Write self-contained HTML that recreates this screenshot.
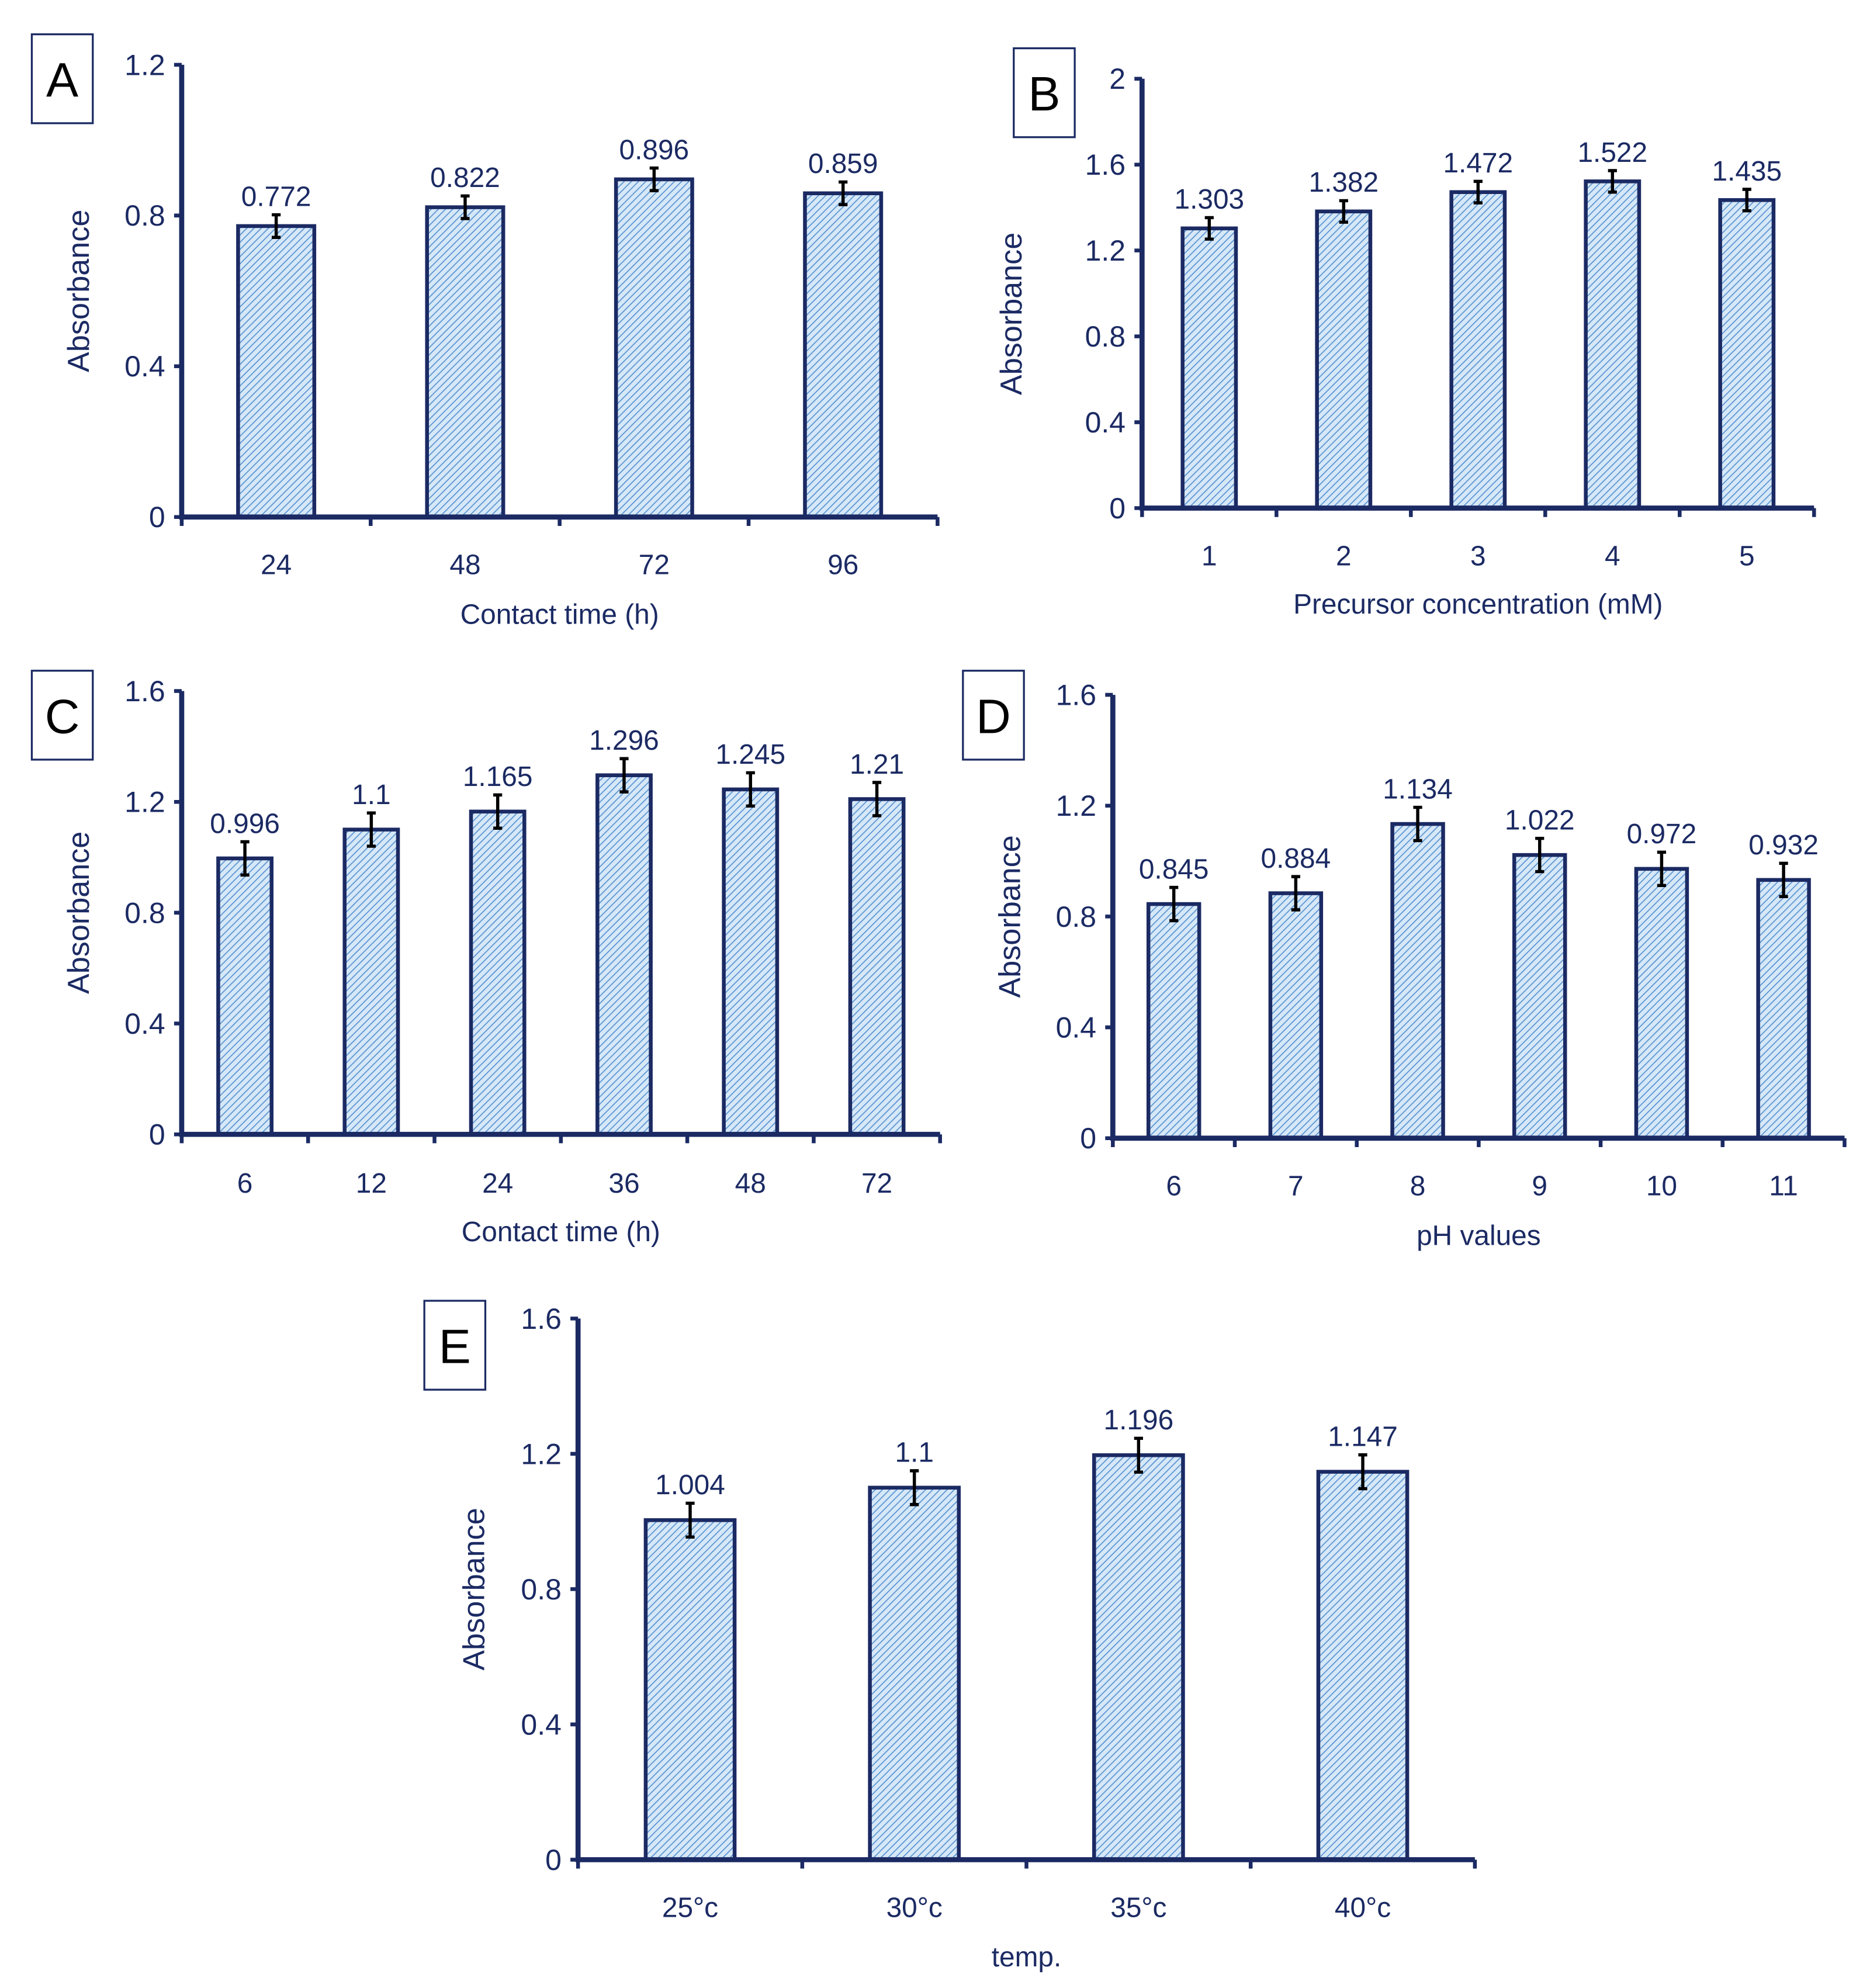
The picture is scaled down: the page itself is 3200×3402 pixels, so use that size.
<!DOCTYPE html>
<html><head><meta charset="utf-8"><style>
html,body{margin:0;padding:0;background:#fff}
svg{display:block}
text{font-family:"Liberation Sans",sans-serif;fill:#1b2a63}
</style></head><body>
<svg id="fig" width="3200" height="3402" viewBox="0 0 1472 1565" xmlns="http://www.w3.org/2000/svg">
<defs>
<pattern id="hatch" width="4" height="4" patternUnits="userSpaceOnUse" patternTransform="rotate(45)">
<rect width="4" height="4" fill="#d6e8f8"/>
<line x1="0" y1="0" x2="0" y2="4" stroke="#5b93cf" stroke-width="1.6"/>
</pattern>
</defs>
</svg>
<script>
// Panel A
const catsA = ["24","48","72","96"];
const valsA = [0.772,0.822,0.896,0.859];
const errA = [0.03,0.03,0.03,0.03];
const ticksA = [0,0.4,0.8,1.2];
// Panel B
const catsB = ["1","2","3","4","5"];
const valsB = [1.303,1.382,1.472,1.522,1.435];
const errB = [0.05,0.05,0.05,0.05,0.05];
const ticksB = [0,0.4,0.8,1.2,1.6,2];
// Panel C
const catsC = ["6","12","24","36","48","72"];
const valsC = [0.996,1.1,1.165,1.296,1.245,1.21];
const errC = [0.06,0.06,0.06,0.06,0.06,0.06];
const ticksC = [0,0.4,0.8,1.2,1.6];
// Panel D
const catsD = ["6","7","8","9","10","11"];
const valsD = [0.845,0.884,1.134,1.022,0.972,0.932];
const errD = [0.06,0.06,0.06,0.06,0.06,0.06];
const ticksD = [0,0.4,0.8,1.2,1.6];
// Panel E
const catsE = ["25°c","30°c","35°c","40°c"];
const valsE = [1.004,1.1,1.196,1.147];
const errE = [0.05,0.05,0.05,0.05];
const ticksE = [0,0.4,0.8,1.2,1.6];

const NS="http://www.w3.org/2000/svg";
const svg=document.getElementById('fig');
const NAVY="#1b2a63";
function mk(tag,attrs,parent){const e=document.createElementNS(NS,tag);for(const k in attrs)e.setAttribute(k,attrs[k]);(parent||svg).appendChild(e);return e;}

const layouts=[
 {id:'a',letter:'A',cats:catsA,vals:valsA,err:errA,ticks:ticksA,x0:143,x1:738,yTop:51,yBot:407,bw:60,box:[25,27],tickY:444,titleY:483,title:"Contact time (h)",ylabX:62,yoff:0},
 {id:'b',letter:'B',cats:catsB,vals:valsB,err:errB,ticks:ticksB,x0:899,x1:1428,yTop:62,yBot:400,bw:42,box:[798,38],tickY:437,titleY:475,title:"Precursor concentration (mM)",ylabX:796,yoff:16},
 {id:'c',letter:'C',cats:catsC,vals:valsC,err:errC,ticks:ticksC,x0:143,x1:740,yTop:544,yBot:893,bw:42,box:[25,528],tickY:931,titleY:969,title:"Contact time (h)",ylabX:62,yoff:0},
 {id:'d',letter:'D',cats:catsD,vals:valsD,err:errD,ticks:ticksD,x0:876,x1:1452,yTop:547,yBot:896,bw:40,box:[758,528],tickY:933,titleY:972,title:"pH values",ylabX:795,yoff:0},
 {id:'e',letter:'E',cats:catsE,vals:valsE,err:errE,ticks:ticksE,x0:455,x1:1161,yTop:1038,yBot:1464,bw:70,box:[334,1024],tickY:1501,titleY:1540,title:"temp.",ylabX:373,yoff:0}
];

layouts.forEach(p=>{
 const g=mk('g',{});
 
 
 const ymax=p.ticks[p.ticks.length-1];
 const yS=v=>p.yBot-(v/ymax)*(p.yBot-p.yTop);
 const n=p.cats.length, cw=(p.x1-p.x0)/n;
 const xS=i=>p.x0+cw*(i+0.5);
 p.vals.forEach((v,i)=>{
  const r=mk('rect',{x:xS(i)-p.bw/2,y:yS(v),width:p.bw,height:p.yBot-yS(v),fill:'url(#hatch)',stroke:NAVY,'stroke-width':3},g);
  
  
  const e=p.err[i];
  const eb=mk('path',{d:`M${xS(i)},${yS(v+e)}V${yS(v-e)}M${xS(i)-3.5},${yS(v+e)}H${xS(i)+3.5}M${xS(i)-3.5},${yS(v-e)}H${xS(i)+3.5}`,stroke:'#000','stroke-width':2.5,fill:'none'},g);
  
  
  const t=mk('text',{x:xS(i),y:yS(v+e)-7,'text-anchor':'middle','font-size':22},g);
  t.textContent=String(v);
  
  
  const tl=mk('text',{x:xS(i),y:p.tickY+8,'text-anchor':'middle','font-size':22},g);
  tl.textContent=p.cats[i];
  
  
 });
 const ax=mk('path',{d:`M${p.x0},${p.yTop}V${p.yBot}M${p.x0-2},${p.yBot}H${p.x1}`,stroke:NAVY,'stroke-width':4,fill:'none'},g);
 
 
 let d='';
 p.ticks.forEach(t=>{d+=`M${p.x0-6},${yS(t)}H${p.x0}`;});
 for(let i=0;i<=n;i++){const x=p.x0+cw*i;d+=`M${x},${p.yBot}V${p.yBot+7}`;}
 const tk=mk('path',{d:d,stroke:NAVY,'stroke-width':3,fill:'none'},g);
 
 
 p.ticks.forEach(t=>{
  const tt=mk('text',{x:p.x0-13,y:yS(t)+8,'text-anchor':'end','font-size':23},g);
  tt.textContent=String(t);
  
  
 });
 const xt=mk('text',{x:(p.x0+p.x1)/2,y:p.titleY+8,'text-anchor':'middle','font-size':22},g);
 xt.textContent=p.title;
 
 
 const ycy=(p.yTop+p.yBot)/2+p.yoff;
 const yt=mk('text',{x:p.ylabX+8,y:ycy,'text-anchor':'middle','font-size':24,transform:`rotate(-90 ${p.ylabX+8} ${ycy})`},g);
 yt.textContent='Absorbance';
 
 
 const bx=mk('rect',{x:p.box[0],y:p.box[1],width:48,height:70,fill:'#fff',stroke:NAVY,'stroke-width':1.5},g);
 
 
 const bt=mk('text',{x:p.box[0]+24,y:p.box[1]+49,'text-anchor':'middle','font-size':38,style:'fill:#000'},g);
 bt.textContent=p.letter;
 
 
});
</script>
</body></html>
